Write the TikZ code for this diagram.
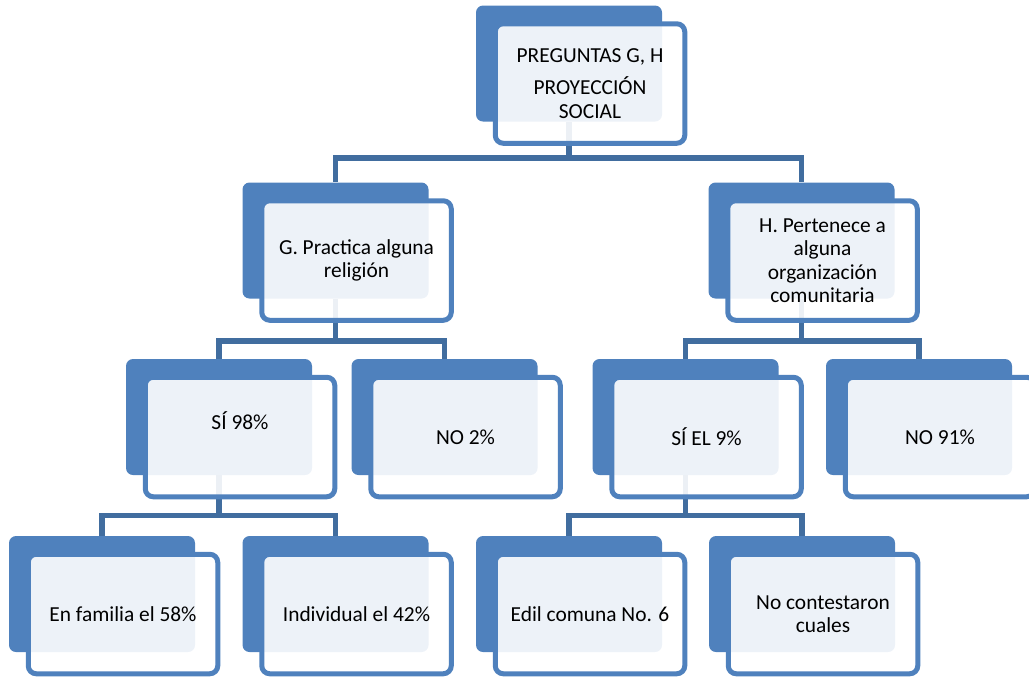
\documentclass[tikz,border=0pt]{standalone}
\usepackage{fontspec}
\setmainfont{Carlito}
\definecolor{boxblue}{HTML}{4F81BD}
\definecolor{linkblue}{HTML}{416D9F}
\tikzset{
  back/.style={fill=boxblue, rounded corners=3.5pt, minimum width=93pt, minimum height=58pt, inner sep=0pt},
  boxtext/.style={font=\fontsize{10.7}{11.75}\selectfont, align=center},
  front/.style={draw=boxblue, line width=2.5pt, fill=white, fill opacity=0.9, text opacity=1,
    rounded corners=4pt, minimum width=94.75pt, minimum height=59.75pt, inner sep=0pt, boxtext},
  link/.style={draw=linkblue, line width=2.8pt},
}
\begin{document}
\begin{tikzpicture}[x=0.5pt, y=-0.5pt]
   \useasboundingbox (0,0) rectangle (1029,677);
   \node (0) [back] at (569,63.5) {};
   \node (1) [back] at (335.5,240.5) {};
   \node (2) [back] at (801.5,240.5) {};
   \node (3) [back] at (219,417) {};
   \node (4) [back] at (444.5,417) {};
   \node (5) [back] at (685.5,417) {};
   \node (6) [back] at (919,417) {};
   \node (7) [back] at (102,594) {};
   \node (8) [back] at (335.5,594) {};
   \node (9) [back] at (569,594) {};
   \node (10) [back] at (802,594) {};
   \draw[link] (0.south) -- ++(0,36) -| (1.north);
   \draw[link] (0.south) -- ++(0,36) -| (2.north);
   \draw[link] (1.south) -- ++(0,42) -| (3.north);
   \draw[link] (1.south) -- ++(0,42) -| (4.north);
   \draw[link] (2.south) -- ++(0,42) -| (5.north);
   \draw[link] (2.south) -- ++(0,42) -| (6.north);
   \draw[link] (3.south) -- ++(0,40) -| (7.north);
   \draw[link] (3.south) -- ++(0,40) -| (8.north);
   \draw[link] (5.south) -- ++(0,40) -| (9.north);
   \draw[link] (5.south) -- ++(0,40) -| (10.north);
   \node (0t) [front] at ([shift={(21,20)}]0.center) {PREGUNTAS G, H\\[4.5pt]PROYECCIÓN\\SOCIAL};
   \node (1t) [front] at ([shift={(21,20)}]1.center) {G. Practica alguna\\religión};
   \node (2t) [front] at ([shift={(21,20)}]2.center) {H. Pertenece a\\alguna\\organización\\comunitaria};
   \node (3t) [front, label={[boxtext, yshift=8pt]center:SÍ 98\%}] at ([shift={(21,20)}]3.center) {};
   \node (4t) [front] at ([shift={(21,20)}]4.center) {NO 2\%};
   \node (5t) [front] at ([shift={(21,20)}]5.center) {SÍ EL 9\%};
   \node (6t) [front] at ([shift={(21,20)}]6.center) {NO 91\%};
   \node (7t) [front] at ([shift={(21,20)}]7.center) {En familia el 58\%};
   \node (8t) [front] at ([shift={(21,20)}]8.center) {Individual el 42\%};
   \node (9t) [front] at ([shift={(21,20)}]9.center) {Edil comuna No. 6};
   \node (10t) [front] at ([shift={(21,20)}]10.center) {No contestaron\\cuales};
  \end{tikzpicture}
\end{document}
